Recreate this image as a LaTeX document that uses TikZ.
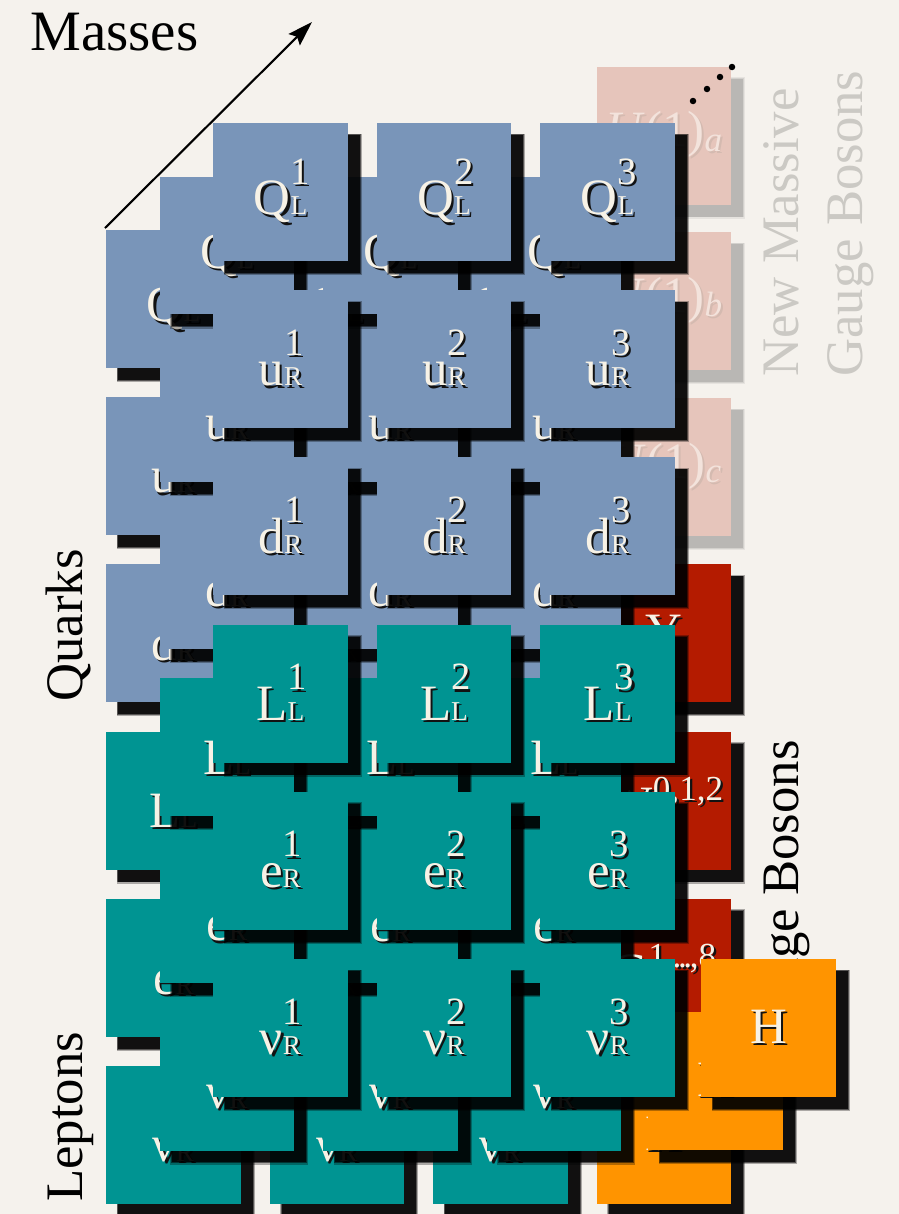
\documentclass[tikz,border=0pt]{standalone}
\usepackage{fontspec}
\setmainfont{Liberation Serif}
\usetikzlibrary{shadows,arrows.meta}
\definecolor{paper}{RGB}{245,242,237}
\definecolor{qblue}{RGB}{121,149,185}
\definecolor{lteal}{RGB}{0,148,146}
\definecolor{gred}{RGB}{180,27,0}
\definecolor{horange}{RGB}{255,148,0}
\definecolor{npink}{RGB}{230,197,187}
\definecolor{cream}{RGB}{247,242,230}
\definecolor{tshadow}{RGB}{18,18,18}
\definecolor{ptext}{RGB}{243,227,220}
\definecolor{pshadow}{RGB}{212,186,176}
\definecolor{fadegray}{RGB}{203,201,196}
\newcommand\labfont{\fontsize{29}{30}\selectfont}
\newcommand\supfont{\fontsize{22}{22}\selectfont}
\newcommand\subfontx{\fontsize{15.5}{16}\selectfont}
\newcommand\gsupfont{\fontsize{20}{21}\selectfont}
\newcommand\sidefont{\fontsize{30}{36}\selectfont}
\newcommand\stx[1]{\rlap{\hspace{0.045cm}\raisebox{-0.045cm}{\color{tshadow}#1}}{\color{cream}#1}}
\newcommand\ptx[1]{\rlap{\hspace{0.04cm}\raisebox{-0.04cm}{\color{pshadow}#1}}{\color{ptext}#1}}
\newcommand\fl[3]{#1\rlap{\raisebox{0.6em}{\supfont #2}}{\subfontx #3}}
\newcommand\layer[3]{%
  \foreach \s [count=\c from 0] in {1,2,3} {
    \foreach \lt/\sb/\col [count=\r from 0] in {Q/L/qblue,u/R/qblue,d/R/qblue,L/L/lteal,e/R/lteal,ν/R/lteal} {
      \node[ptile, fill=\col] (#1-\r-\s) at ({#2+163.5*\c+67.5},{#3+167.2*\r+69}) {\stx{\fl{\lt}{\s}{\sb}}};
    }
  }%
}
\tikzset{
  boxshadow/.style={
    general shadow={shadow xshift=0.24cm, shadow yshift=-0.24cm, shadow scale=1.025, fill=black, opacity=0.3},
    general shadow={shadow xshift=0.24cm, shadow yshift=-0.24cm, shadow scale=1.01, fill=black, opacity=0.5},
    general shadow={shadow xshift=0.24cm, shadow yshift=-0.24cm, fill=black, opacity=0.8}},
  faintshadow/.style={
    general shadow={shadow xshift=0.24cm, shadow yshift=-0.24cm, shadow scale=1.025, fill=black, opacity=0.06},
    general shadow={shadow xshift=0.24cm, shadow yshift=-0.24cm, shadow scale=1.01, fill=black, opacity=0.08},
    general shadow={shadow xshift=0.24cm, shadow yshift=-0.24cm, fill=black, opacity=0.12}},
  tile/.style={minimum width=2.7cm, minimum height=2.76cm, inner sep=0pt, outer sep=0pt, font=\labfont},
  ptile/.style={tile, boxshadow},
  ntile/.style={tile, faintshadow, fill=npink},
  dotn/.style={circle, fill=black, inner sep=0pt, minimum size=0.13cm},
  sidetext/.style={font=\sidefont, inner sep=0pt},
  fadetext/.style={sidetext, text=fadegray},
  massarrow/.style={line width=1.2pt, -{Stealth[length=0.5cm, width=0.32cm, inset=0.08cm]}}
}
\begin{document}
\begin{tikzpicture}[x=0.02cm, y=-0.02cm]
\fill[paper] (0,0) rectangle (899,1214);
\useasboundingbox (0,0) rectangle (899,1214);

% side texts
\node[inner sep=0pt, font=\fontsize{32.5}{36}\selectfont, anchor=base west] (masses) at (30,50) {Masses};
\node[sidetext, rotate=90, anchor=base west] (quarks) at (82,702) {Quarks};
\node[sidetext, rotate=90, anchor=base west] (leptons) at (82,1202) {Leptons};
\node[fadetext, rotate=90, anchor=base west] (newmassive) at (798,377) {New Massive};
\node[fadetext, rotate=90, anchor=base west] (newgauge) at (862,377) {Gauge Bosons};
\node[sidetext, rotate=90, anchor=base east] (gauge) at (798,740) {Gauge Bosons};

% back layer
\layer{b}{106}{230}
\node[ntile] (ua) at (596.5+67.5,66.7+69) {\ptx{\textit{U}(1)\raisebox{-0.08em}{\fontsize{20}{21}\selectfont\itshape a}}};
\node[ntile] (ub) at (596.5+67.5,232+69) {\ptx{\textit{U}(1)\raisebox{-0.08em}{\fontsize{20}{21}\selectfont\itshape b}}};
\node[ntile] (uc) at (596.5+67.5,398+69) {\ptx{\textit{U}(1)\raisebox{-0.08em}{\fontsize{20}{21}\selectfont\itshape c}}};
\node[ptile, fill=gred] (gy) at (596.5+67.5,564.4+69) {\stx{Y}};
\node[ptile, fill=gred] (gw) at (596.5+67.5,731.6+69) {\stx{W\raisebox{0.42em}{\gsupfont 0,1,2}}\hspace{0.8cm}};
\node[ptile, fill=gred] (gg) at (596.5+67.5,898.8+69) {\stx{G\raisebox{0.42em}{\gsupfont 1,\kern-0.06em.\kern-0.1em.\kern-0.1em.\kern-0.06em,8}}\hspace{0.8cm}};
\node[ptile, fill=horange] (hb) at (596.5+67.5,1066+69) {\stx{H}};

% dots
\node[dotn] (d1) at (693,101) {};
\node[dotn] (d2) at (707,89) {};
\node[dotn] (d3) at (720,77) {};
\node[dotn] (d4) at (732,67) {};

% middle layer
\layer{m}{159.5}{176.5}
\node[ptile, fill=horange] (hm) at (648+67.5,1012+69) {\stx{H}};

% front layer
\layer{f}{213}{123}
\node[ptile, fill=horange] (hf) at (701+67.5,959+69) {\stx{H}};

% mass arrow
\coordinate (m0) at (105,228);
\coordinate (m1) at (312,22);
\draw[massarrow] (m0) -- (m1);
\end{tikzpicture}
\end{document}
